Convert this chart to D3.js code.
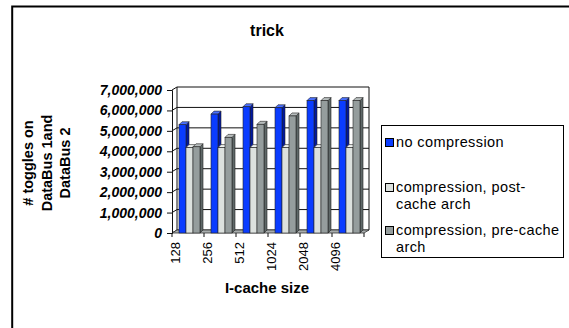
<!DOCTYPE html>
<html><head><meta charset="utf-8">
<script src="https://cdn.jsdelivr.net/npm/d3@7/dist/d3.min.js"></script>
<style>html,body{margin:0;padding:0;background:#fff}svg{display:block;font-family:"Liberation Sans",Arial,sans-serif}</style>
</head><body><svg id="c" width="569" height="328"></svg>
<script>
const categories = ["128","256","512","1024","2048","4096"];
const seriesNames = ["no compression","compression, post-cache arch","compression, pre-cache arch"];
const noCompression = [5300000,5820000,6180000,6130000,6480000,6480000];
const postCache = [4180000,4180000,4180000,4180000,4180000,4180000];
const preCache = [4220000,4680000,5320000,5730000,6480000,6480000];
const yTicks = [0,1000000,2000000,3000000,4000000,5000000,6000000,7000000];
const legendLines = [["no compression"],["compression, post-","cache arch"],["compression, pre-cache","arch"]];

const values = [noCompression, postCache, preCache];
const front = ["#0a3cff","#dce1de","#959d9d"];
const side = ["#0018a0","#a9aeab","#5f6868"];
const topc = ["#4a70ff","#eef1ef","#b7bdbd"];

const svg = d3.select("#c");
svg.append("rect").attr("width",569).attr("height",328).attr("fill","#fff");
svg.append("rect").attr("x",12.2).attr("y",6.5).attr("width",700).attr("height",400)
  .attr("fill","none").attr("stroke","#000").attr("stroke-width",2);

const x = d3.scaleBand().domain(categories).range([172,364]).padding(0);
const bw = x.bandwidth();
const x1 = d3.scaleBand().domain(seriesNames).range([bw*7/32, bw*28/32]).padding(0);
const y = d3.scaleLinear().domain([0,7000000]).range([233,90]);
const wdx = 5, wdy = -3;  // wall depth
const bdx = 3, bdy = -3;  // bar depth

const g = svg.append("g");
const x0 = x.range()[0], xEnd = x.range()[1];
g.append("path").attr("d",`M${x0},${y(0)}L${x0},${y(7000000)}L${x0+wdx},${y(7000000)+wdy}L${xEnd+wdx},${y(7000000)+wdy}L${xEnd+wdx},${y(0)+wdy}L${x0+wdx},${y(0)+wdy}Z`)
  .attr("fill","#fff").attr("stroke","none");
yTicks.forEach(t=>{
  g.append("path").attr("d",`M${x0},${y(t)}L${x0+wdx},${y(t)+wdy}L${xEnd+wdx},${y(t)+wdy}`)
   .attr("fill","none").attr("stroke","#111").attr("stroke-width",1);
});
g.append("path").attr("d",`M${x0+wdx},${y(0)+wdy}V${y(7000000)+wdy}M${xEnd+wdx},${y(0)+wdy}V${y(7000000)+wdy}`)
  .attr("stroke","#111").attr("fill","none");
g.append("path").attr("d",`M${x0},${y(0)}L${xEnd},${y(0)}L${xEnd+wdx},${y(0)+wdy}L${x0+wdx},${y(0)+wdy}Z`)
  .attr("fill","#a8adad").attr("stroke","#333").attr("stroke-width",0.8);

categories.forEach((c,ci)=>{
  seriesNames.forEach((s,si)=>{
    const v = values[si][ci];
    const bx = x(c)+x1(s), w = x1.bandwidth();
    const yt = y(v), yb = y(0);
    const bg = g.append("g");
    bg.append("path").attr("d",`M${bx+w},${yb}L${bx+w+bdx},${yb+bdy}L${bx+w+bdx},${yt+bdy}L${bx+w},${yt}Z`)
      .attr("fill",side[si]).attr("stroke","#222").attr("stroke-width",0.6);
    bg.append("path").attr("d",`M${bx},${yt}L${bx+bdx},${yt+bdy}L${bx+w+bdx},${yt+bdy}L${bx+w},${yt}Z`)
      .attr("fill",topc[si]).attr("stroke","#222").attr("stroke-width",0.6);
    bg.append("rect").attr("x",bx).attr("y",yt).attr("width",w).attr("height",yb-yt)
      .attr("fill",front[si]).attr("stroke","#222").attr("stroke-width",0.6);
  });
});

const ya = svg.append("g").attr("transform",`translate(${x0},0)`)
  .call(d3.axisLeft(y).tickValues(yTicks).tickSize(5).tickPadding(5).tickFormat(d3.format(",")));
ya.select(".domain").attr("stroke","#111");
ya.selectAll("line").attr("stroke","#111");
ya.selectAll("text").attr("font-size",14).attr("font-weight","bold").attr("font-style","italic").attr("fill","#000")
  .attr("font-family","'Liberation Sans',Arial,sans-serif");

const xa = svg.append("g").attr("transform",`translate(0,${y(0)})`)
  .call(d3.axisBottom(x).tickSize(0).tickFormat(""));
xa.select(".domain").remove();
const tickPos = categories.map(c=>x(c)).concat([xEnd]);
tickPos.forEach(p=>{
  svg.append("line").attr("x1",p).attr("x2",p).attr("y1",y(0)).attr("y2",y(0)+4).attr("stroke","#111");
});
categories.forEach(c=>{
  svg.append("text").attr("transform",`translate(${x(c)+3},${y(0)+9}) rotate(-90)`)
    .attr("text-anchor","end").attr("dy","0.35em").attr("font-size",13).text(c);
});

svg.append("text").attr("x",267).attr("y",36).attr("text-anchor","middle").attr("font-size",16).attr("font-weight","bold").text("trick");
svg.append("text").attr("x",267).attr("y",293).attr("text-anchor","middle").attr("font-size",15).attr("font-weight","bold").text("I-cache size");
const ytl = ["# toggles on","DataBus 1and","DataBus 2"];
ytl.forEach((t,i)=>{
  svg.append("text").attr("transform",`translate(${28+i*18.5},163) rotate(-90)`).attr("text-anchor","middle")
    .attr("dy","0.35em").attr("font-size",14.5).attr("font-weight","bold").text(t);
});

const lg = svg.append("g");
lg.append("rect").attr("x",381.5).attr("y",125.5).attr("width",182).attr("height",132).attr("fill","#fff").attr("stroke","#000");
const itemY = [138,183,226];
seriesNames.forEach((s,i)=>{
  lg.append("rect").attr("x",385.5).attr("y",itemY[i]+0.5).attr("width",8).attr("height",8).attr("fill",front[i]).attr("stroke","#000");
  legendLines[i].forEach((ln,j)=>{
    lg.append("text").attr("x",396).attr("y",itemY[i]+9+j*17).attr("font-size",14.5).attr("letter-spacing","0.4px").text(ln);
  });
});
</script></body></html>
